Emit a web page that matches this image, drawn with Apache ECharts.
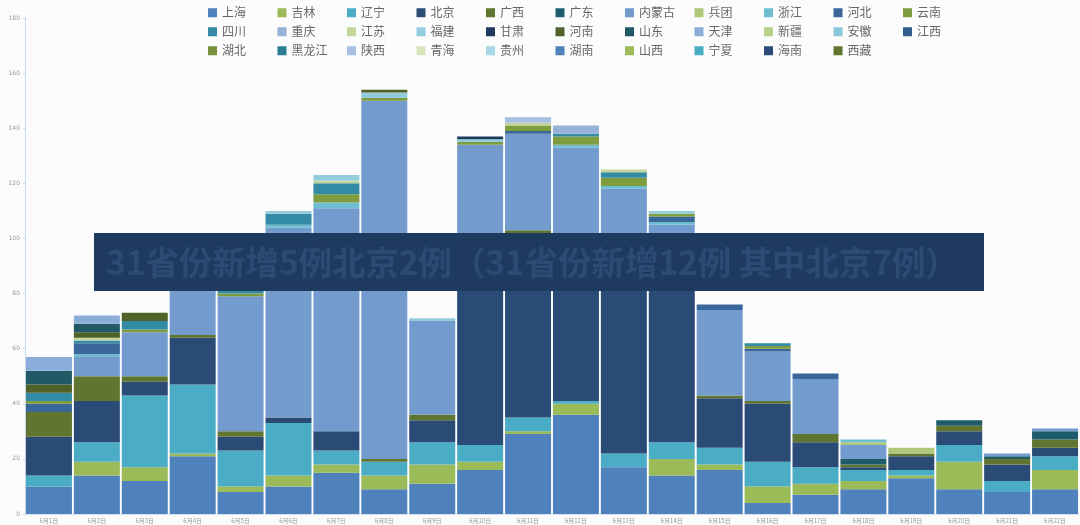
<!DOCTYPE html>
<html>
<head>
<meta charset="utf-8">
<script src="https://cdn.jsdelivr.net/npm/echarts@6/dist/echarts.min.js"></script>
<style>
html,body{margin:0;padding:0;background:#fcfcfc;}
#c{width:1080px;height:525px;}
</style>
</head>
<body>
<div id="c"></div>
<script>
const categories = ['6月1日','6月2日','6月3日','6月4日','6月5日','6月6日','6月7日','6月8日','6月9日','6月10日','6月11日','6月12日','6月13日','6月14日','6月15日','6月16日','6月17日','6月18日','6月19日','6月20日','6月21日','6月22日'];
const yTicks = [0,20,40,60,80,100,120,140,160,180];
const titleText = '31省份新增5例北京2例（31省份新增12例 其中北京7例）';

const provinces = ['上海','吉林','辽宁','北京','广西','广东','内蒙古','兵团','浙江','河北','云南','四川','重庆','江苏','福建','甘肃','河南','山东','天津','新疆','安徽','江西','湖北','黑龙江','陕西','青海','贵州','湖南','山西','宁夏','海南','西藏'];

const 上海 = [10,14,12,21,8,10,15,9,11,16,29,36,17,14,16,4,7,9,13,9,8,9];
const 吉林 = [0,5,5,1,2,4,3,5,7,3,1,4,0,6,2,6,4,3,1,10,0,7];
const 辽宁 = [4,7,26,25,13,19,5,5,8,6,5,1,5,6,6,9,6,4,2,6,4,5];
const 北京 = [14,15,5,17,5,2,7,0,8,70,67,59,75,64,18,21,9,1,5,5,6,3];
const 广西 = [9,9,2,1,2,0,0,1,2,0,1,0,0,0,1,1,3,1,1,2,2,3];
const 广东 = [0,0,0,0,0,0,0,0,0,0,0,0,0,0,0,0,0,2,0,2,1,3];
const 内蒙古 = [0,7,16,25,49,69,81,130,34,39,35,33,21,15,31,18,20,5,0,0,1,1];
const 兵团 = [0,0,0,0,0,0,0,0,0,0,0,0,0,0,0,0,0,1,2,0,0,0];
const 浙江 = [0,1,0,0,0,1,2,0,0,0,0,1,1,1,0,0,0,1,0,0,0,0];
const 河北 = [3,4,0,0,0,0,0,0,0,0,1,0,0,2,2,1,2,0,0,0,0,0];
const 云南 = [1,0,1,0,1,0,3,1,0,1,2,3,3,1,0,1,0,0,0,0,0,0];
const 四川 = [3,1,3,0,3,4,4,0,0,0,0,1,2,0,0,1,0,0,0,0,0,0];
const 重庆 = [0,0,0,0,0,0,0,0,0,0,0,3,0,0,0,0,0,0,0,0,0,0];
const 江苏 = [0,1,0,0,0,0,1,0,0,0,1,0,1,0,0,0,0,0,0,0,0,0];
const 福建 = [0,0,0,0,0,1,2,2,1,1,0,0,0,1,0,0,0,0,0,0,0,0];
const 甘肃 = [0,0,0,0,0,0,0,0,0,1,0,0,0,0,0,0,0,0,0,0,0,0];
const 河南 = [3,2,3,0,0,0,0,1,0,0,0,0,0,0,0,0,0,0,0,0,0,0];
const 山东 = [5,3,0,0,0,0,0,0,0,0,0,0,0,0,0,0,0,0,0,0,0,0];
const 天津 = [5,3,0,0,0,0,0,0,0,0,0,0,0,0,0,0,0,0,0,0,0,0];
const 新疆 = [0,0,0,0,0,0,0,0,0,0,0,0,0,0,0,0,0,0,0,0,0,0];
const 安徽 = [0,0,0,0,0,0,0,0,0,0,0,0,0,0,0,0,0,0,0,0,0,0];
const 江西 = [0,0,0,0,0,0,0,0,0,0,0,0,0,0,0,0,0,0,0,0,0,0];
const 湖北 = [0,0,0,0,0,0,0,0,0,0,0,0,0,0,0,0,0,0,0,0,0,0];
const 黑龙江 = [0,0,0,0,0,0,0,0,0,0,0,0,0,0,0,0,0,0,0,0,0,0];
const 陕西 = [0,0,0,0,0,0,0,0,0,0,2,0,0,0,0,0,0,0,0,0,0,0];
const 青海 = [0,0,0,0,0,0,0,0,0,0,0,0,0,0,0,0,0,0,0,0,0,0];
const 贵州 = [0,0,0,0,0,0,0,0,0,0,0,0,0,0,0,0,0,0,0,0,0,0];
const 湖南 = [0,0,0,0,0,0,0,0,0,0,0,0,0,0,0,0,0,0,0,0,0,0];
const 山西 = [0,0,0,0,0,0,0,0,0,0,0,0,0,0,0,0,0,0,0,0,0,0];
const 宁夏 = [0,0,0,0,0,0,0,0,0,0,0,0,0,0,0,0,0,0,0,0,0,0];
const 海南 = [0,0,0,0,0,0,0,0,0,0,0,0,0,0,0,0,0,0,0,0,0,0];
const 西藏 = [0,0,0,0,0,0,0,0,0,0,0,0,0,0,0,0,0,0,0,0,0,0];

const seriesValues = [上海,吉林,辽宁,北京,广西,广东,内蒙古,兵团,浙江,河北,云南,四川,重庆,江苏,福建,甘肃,河南,山东,天津,新疆,安徽,江西,湖北,黑龙江,陕西,青海,贵州,湖南,山西,宁夏,海南,西藏];

const colors = ['#4f81bd','#9bbb59','#4bacc6','#2a4b75','#5f7530','#1f5c6b','#739bcd','#afc97a','#6fbdd1','#3a6799','#7f9c3f',
                '#338ba5','#95b3d7','#c3d69b','#93cddd','#1f3a5f','#4f6228','#215967','#8aaed9','#b8d08a','#88c6d8','#335f8f',
                '#76923c','#2d7d92','#a7bfe0','#d7e4bc','#a8d8e6','#4f81bd','#9bbb59','#4bacc6','#2a4b75','#5f7530'];

const chart = echarts.init(document.getElementById('c'));
chart.setOption({
  backgroundColor: '#fcfcfc',
  animation: false,
  color: colors,
  legend: {
    data: provinces,
    left: 203,
    top: 1,
    width: 770,
    icon: 'rect',
    itemWidth: 9,
    itemHeight: 9,
    itemGap: 5.5,
    textStyle: {
      fontFamily: 'Noto Sans CJK SC',
      fontSize: 12,
      color: '#666',
      width: 50,
      lineHeight: 13.5
    }
  },
  grid: { left: 25, right: 1, top: 18, bottom: 11, containLabel: false },
  xAxis: {
    type: 'category',
    data: categories,
    axisLine: { show: true, lineStyle: { color: '#d6e0ec', width: 1 } },
    axisTick: { show: false },
    axisLabel: { fontSize: 6, color: '#999', margin: 4, fontFamily: 'Noto Sans CJK SC' }
  },
  yAxis: {
    type: 'value',
    min: 0,
    max: 180,
    interval: 20,
    axisLine: { show: true, lineStyle: { color: '#c9d9ec', width: 1 } },
    axisTick: { show: true, length: 2, lineStyle: { color: '#c9d9ec' } },
    splitLine: { show: false },
    axisLabel: { fontSize: 6, color: '#999', margin: 5, fontFamily: 'DejaVu Sans',
      formatter: function (v) { return yTicks.indexOf(v) >= 0 ? String(v) : ''; } }
  },
  series: provinces.map(function (name, i) {
    return {
      name: name,
      type: 'bar',
      stack: 'total',
      barCategoryGap: '4%',
      data: seriesValues[i],
      itemStyle: { color: colors[i] }
    };
  }),
  graphic: [
    {
      type: 'group',
      left: 94,
      top: 233,
      z: 100,
      children: [
        { type: 'rect', z: 100, shape: { x: 0, y: 0, width: 890, height: 58 }, style: { fill: '#1f3a5f' } },
        { type: 'text', z: 101, x: 12, y: 29, style: { text: titleText, fill: '#2b4b74', fontSize: 33.4, fontWeight: 'bold',
          fontFamily: 'Noto Sans CJK SC', textVerticalAlign: 'middle', verticalAlign: 'middle' } }
      ]
    }
  ]
});
</script>
</body>
</html>
